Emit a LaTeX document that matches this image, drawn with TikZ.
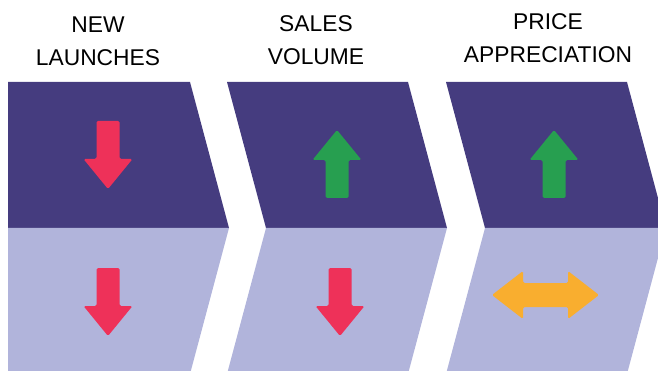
\documentclass[tikz,border=0pt]{standalone}
\usepackage{fontspec}
\setmainfont{Liberation Sans}
\definecolor{darkband}{HTML}{453C7F}
\definecolor{lightband}{HTML}{B1B4DB}
\definecolor{downred}{HTML}{EE3159}
\definecolor{upgreen}{HTML}{279F50}
\definecolor{flatorange}{HTML}{F9AE2F}
\tikzset{
  heading/.style={align=center, inner sep=0pt, font=\fontsize{22.8}{33}\selectfont, text=black},
  topband/.style={fill=darkband},
  lowband/.style={fill=lightband},
  arrowfill/.style={rounded corners=1.5pt},
  downarrow/.pic={\fill[downred,arrowfill] (-11.5,0) -- (11.5,0) -- (11.5,38) -- (24.5,38) -- (0,68) -- (-24.5,38) -- (-11.5,38) -- cycle;},
  uparrow/.pic={\fill[upgreen,arrowfill] (0,0) -- (24.5,30) -- (11.5,30) -- (11.5,68) -- (-11.5,68) -- (-11.5,30) -- (-24.5,30) -- cycle;},
  bothwaysarrow/.pic={\fill[flatorange,arrowfill] (-53.5,0) -- (-22.5,-24) -- (-22.5,-12) -- (22.5,-12) -- (22.5,-24) -- (53.5,0) -- (22.5,24) -- (22.5,12) -- (-22.5,12) -- (-22.5,24) -- cycle;}
}
\begin{document}
\begin{tikzpicture}[x=1pt,y=-1pt]
\useasboundingbox (0,0) rectangle (658,371);
\clip (0,0) rectangle (658,371);
% chevron 1
\fill[topband] (8,82) -- (190,82) -- (229,228) -- (8,228) -- cycle;
\fill[lowband] (8,228) -- (229,228) -- (190,374) -- (8,374) -- cycle;
% chevron 2
\fill[topband] (227,82) -- (408,82) -- (447,228) -- (266,228) -- cycle;
\fill[lowband] (266,228) -- (447,228) -- (408,374) -- (227,374) -- cycle;
% chevron 3
\fill[topband] (446,82) -- (627,82) -- (666,228) -- (485,228) -- cycle;
\fill[lowband] (485,228) -- (666,228) -- (627,374) -- (446,374) -- cycle;
% headings
\node[heading] (h1) at (98,41) {NEW\\LAUNCHES};
\node[heading] (h2) at (316,40.5) {SALES\\VOLUME};
\node[heading] (h3) at (548,38) {PRICE\\APPRECIATION};
% arrows
\pic at (108,121) {downarrow};
\pic at (108,268) {downarrow};
\pic at (337,130) {uparrow};
\pic at (340,268) {downarrow};
\pic at (554,130) {uparrow};
\pic at (545.5,295) {bothwaysarrow};
\end{tikzpicture}
\end{document}
